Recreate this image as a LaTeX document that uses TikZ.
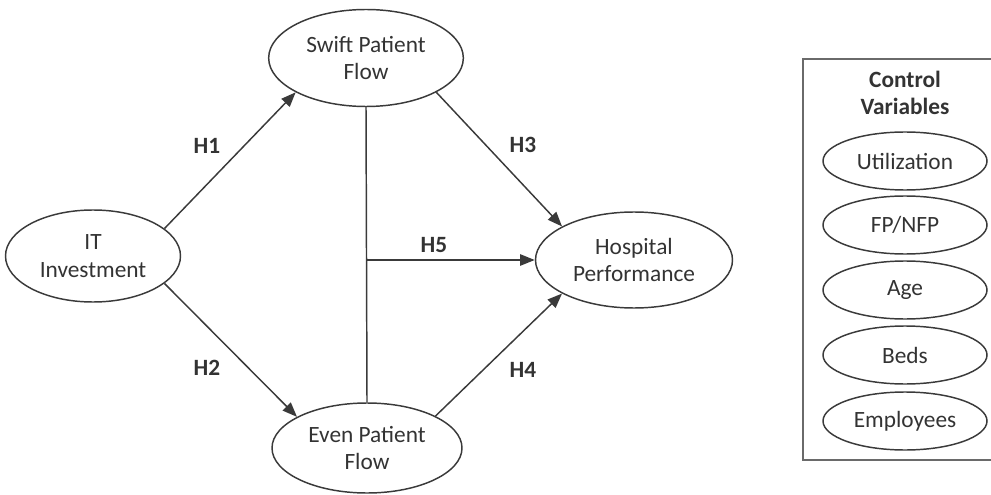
\documentclass[tikz,border=0pt]{standalone}
\usepackage{fontspec}
\setmainfont{Carlito}
\usetikzlibrary{shapes.geometric,arrows.meta}
\definecolor{ln}{HTML}{3A3A3A}
\definecolor{tx}{HTML}{333333}
\definecolor{bx}{HTML}{6A6A6A}
\begin{document}
\begin{tikzpicture}[x=0.75pt,y=-0.75pt,
  ell/.style={ellipse,draw=ln,line width=1.1pt,inner sep=0pt,text=tx,align=center,
    font=\fontsize{17.5}{20.5}\selectfont},
  hlab/.style={text=tx,font=\fontsize{17.5}{20.5}\selectfont\bfseries},
  conn/.style={draw=ln,line width=1.1pt},
  arr/.style={conn,-{Triangle[length=11pt,width=8.5pt]}}]
\useasboundingbox (0,0) rectangle (991,495);
\clip (0,0) rectangle (991,495);
% main nodes
\node[ell,minimum width=131.25pt,minimum height=69pt] (it) at (93,256) {IT\\Investment};
\node[ell,minimum width=146pt,minimum height=72.75pt] (swift) at (366,58) {Swift Patient\\Flow};
\node[ell,minimum width=142.5pt,minimum height=67.5pt] (even) at (367,448) {Even Patient\\Flow};
\node[ell,minimum width=147.75pt,minimum height=72pt] (hosp) at (634,260) {Hospital\\Performance};
% connectors
\draw[arr] (it.21) -- (swift.206);
\draw[arr] (it.-21) -- (even.156);
\draw[arr] (swift.-26) -- (hosp.155);
\draw[arr] (even.25) -- (hosp.205);
\draw[conn] (swift.south) -- (even.north);
\coordinate (j) at (swift.south |- hosp.west);
\draw[arr] (j) -- (hosp.west);
% labels
\node[hlab] (h1) at (207,146) {H1};
\node[hlab] (h2) at (207,368) {H2};
\node[hlab] (h3) at (523,145) {H3};
\node[hlab] (h4) at (523,370) {H4};
\node[hlab] (h5) at (434,245) {H5};
% control box
\draw[draw=bx,line width=1.6pt] (803,59) rectangle (1010,460);
\node[hlab,align=center] (ctitle) at (905,93) {Control\\Variables};
\node[ell,minimum width=123pt,minimum height=43.5pt] (c1) at (905,161) {Utilization};
\node[ell,minimum width=123pt,minimum height=43.5pt] (c2) at (905,225) {FP/NFP};
\node[ell,minimum width=123pt,minimum height=43.5pt] (c3) at (905,290) {Age};
\node[ell,minimum width=123pt,minimum height=43.5pt] (c4) at (905,355) {Beds};
\node[ell,minimum width=123pt,minimum height=43.5pt] (c5) at (905,421) {Employees};
\end{tikzpicture}
\end{document}
